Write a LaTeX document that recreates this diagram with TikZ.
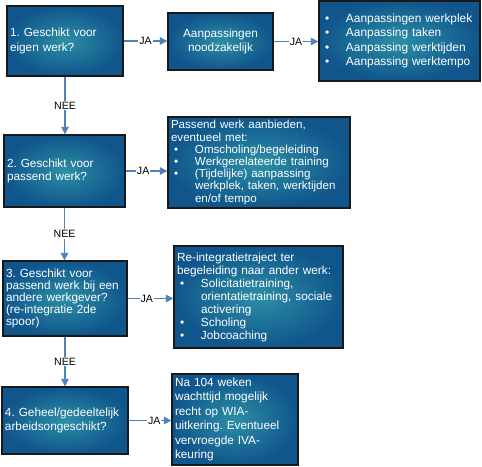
\documentclass[tikz,border=0pt]{standalone}
\usepackage{fontspec}
\setmainfont{Liberation Sans}
\usetikzlibrary{arrows.meta}
\definecolor{arrowblue}{RGB}{79,129,189}
\definecolor{boxout}{RGB}{16,86,140}
\definecolor{boxin}{RGB}{44,142,165}
\newcommand\bul{\makebox[24pt][l]{\hspace{3pt}\textbullet}}
\newcommand\ind{\hspace*{24pt}}
\frenchspacing
\begin{document}
\begin{tikzpicture}[x=1pt,y=-1pt,
  box/.style={rectangle, draw=black!90, line width=1.3pt, shade, shading=radial,
    inner color=boxin, outer color=boxout, text=white, inner sep=3pt,
    align=left, anchor=center},
  arr/.style={draw=arrowblue, line width=1.5pt, -{Triangle[length=7.5pt,width=7.5pt]}},
  lab/.style={fill=white, inner sep=1pt, text=black, font=\fontsize{10.6}{12}\selectfont}
]
\useasboundingbox (0,0) rectangle (482,466);

\node[box, minimum width=116pt, minimum height=70pt, text width=110pt,
  font=\fontsize{11.8}{14.3}\selectfont] (q1) at (65,41)
  {1. Geschikt voor\\eigen werk?};
\node[box, minimum width=105pt, minimum height=57pt, text width=99pt, align=center,
  font=\fontsize{11.8}{14.4}\selectfont] (a1) at (220.5,41.5)
  {Aanpassingen\\noodzakelijk};
\node[box, minimum width=161pt, minimum height=80pt, text width=155pt,
  font=\fontsize{11.9}{14.5}\selectfont] (r1) at (399.5,41)
  {\bul Aanpassingen werkplek\\\bul Aanpassing taken\\\bul Aanpassing werktijden\\\bul Aanpassing werktempo};

\node[box, minimum width=121pt, minimum height=72pt, text width=115pt,
  font=\fontsize{11.8}{12.7}\selectfont] (q2) at (64.5,171)
  {2. Geschikt voor\\passend werk?};
\node[box, minimum width=182pt, minimum height=91pt, text width=176pt,
  font=\fontsize{11.6}{12.2}\selectfont] (r2) at (259,162.5)
  {Passend werk aanbieden,\\eventueel met:\\\bul Omscholing/begeleiding\\\bul Werkgerelateerde training\\\bul (Tijdelijke) aanpassing\\\ind werkplek, taken, werktijden\\\ind en/of tempo};

\node[box, minimum width=124pt, minimum height=75pt, text width=118pt,
  font=\fontsize{11.8}{12.2}\selectfont] (q3) at (65,298.5)
  {3. Geschikt voor\\passend werk bij een\\andere werkgever?\\(re-integratie 2de\\spoor)};
\node[box, minimum width=169pt, minimum height=102pt, text width=163pt,
  font=\fontsize{11.8}{13}\selectfont] (r3) at (258.5,297)
  {Re-integratietraject ter\\begeleiding naar ander werk:\\\bul Solicitatietraining,\\\ind orientatietraining, sociale\\\ind activering\\\bul Scholing\\\bul Jobcoaching};

\node[box, minimum width=126pt, minimum height=67pt, text width=120pt,
  font=\fontsize{11.8}{13.3}\selectfont] (q4) at (65,420.5)
  {4. Geheel/gedeeltelijk\\arbeidsongeschikt?};
\node[box, minimum width=126pt, minimum height=91pt, text width=120pt,
  font=\fontsize{11.8}{14.4}\selectfont] (r4) at (235,419.5)
  {Na 104 weken\\wachttijd mogelijk\\recht op WIA-\\uitkering. Eventueel\\vervroegde IVA-\\keuring};

\draw[arr] (q1.east) -- node[lab]{JA} (q1.east -| a1.west);
\draw[arr] (a1.east) -- node[lab]{JA} (a1.east -| r1.west);
\draw[arr] (q2.east) -- node[lab, pos=0.42]{JA} (q2.east -| r2.west);
\draw[arr] (q3.east) -- node[lab, pos=0.42]{JA} (q3.east -| r3.west);
\draw[arr] (q4.east) -- node[lab, pos=0.6]{JA} (q4.east -| r4.west);

\draw[arr] (q1.south) -- node[lab]{NEE} (q1.south |- q2.north);
\draw[arr] (q2.south) -- node[lab]{NEE} (q2.south |- q3.north);
\draw[arr] (q3.south) -- node[lab]{NEE} (q3.south |- q4.north);
\end{tikzpicture}
\end{document}
